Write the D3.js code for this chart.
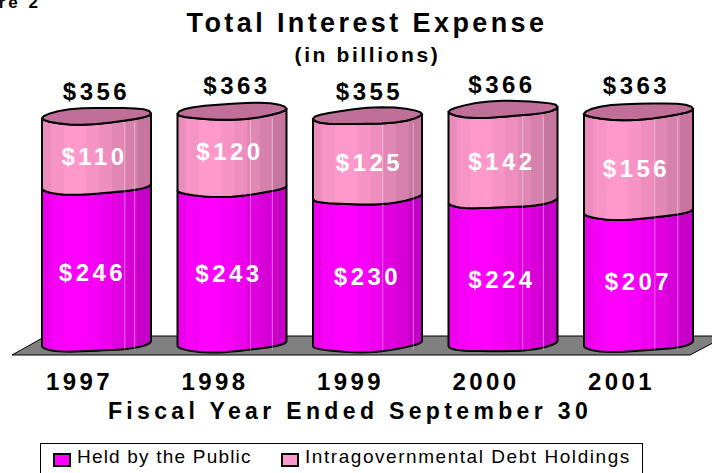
<!DOCTYPE html>
<html>
<head>
<meta charset="utf-8">
<script src="https://cdn.jsdelivr.net/npm/d3@7"></script>
<style>
  html, body { margin: 0; padding: 0; background: #fff; overflow: hidden; }
  text { font-family: "Liberation Sans", Arial, sans-serif; }
</style>
</head>
<body>
<div id="chart"></div>
<script>
const years = ["1997", "1998", "1999", "2000", "2001"];
const heldByPublic = [246, 243, 230, 224, 207];
const intragov = [110, 120, 125, 142, 156];
const totals = [356, 363, 355, 366, 363];
const seriesNames = ["Held by the Public", "Intragovernmental Debt Holdings"];

// hand placed label nudges, the original labels don't sit on a grid
const totalNudge = [[0, 1], [5, -1], [2, 0], [-1, 0], [-2, -1]];
const upperNudge = [[-2, 0], [-2, -4], [2, 0], [-1, 1], [-2, 1]];
const lowerNudge = [[-4, 1], [-3, 1], [0, 0], [-1, 1], [0, -3]];
// faint seams across each cylinder, fraction of its width
const seams = [[0.76, 0.85], [0.67, 0.87], [0.64, 0.92], [0.68, 0.87], [0.65, 0.86]];

const width = 712, height = 473;
const barWidth = 109;

const svg = d3.select("#chart").append("svg")
    .attr("width", width)
    .attr("height", height)
    .style("display", "block");

const x = d3.scaleBand().domain(years).range([28.75, 706.25]);
const y = d3.scaleLinear().domain([0, 400]).range([346, 90]);
const mid = d => x(d) + x.bandwidth() / 2;

// stepped colour bands across the cylinder
const bands = [
  [0, 0.92], [0.08, 0.97], [0.2, 1], [0.4, 0.97], [0.52, 0.93],
  [0.64, 0.88], [0.76, 0.84], [0.88, 0.78]
];
const defs = svg.append("defs");
function makeGrad(id, base) {
  const g = defs.append("linearGradient").attr("id", id);
  const c = d3.rgb(base);
  bands.forEach((b, i) => {
    const next = i < bands.length - 1 ? bands[i + 1][0] : 1;
    const col = d3.rgb(c.r * b[1], c.g * b[1], c.b * b[1]).formatHex();
    g.append("stop").attr("offset", b[0]).attr("stop-color", col);
    g.append("stop").attr("offset", next).attr("stop-color", col);
  });
}
makeGrad("gradPublic", "#ff00ff");
makeGrad("gradIntra", "#ff99cc");

// ellipse edge, tilted up to the right and a bit uneven like the original
const a = barWidth / 2, b = 8, tilt = 2.5;
function edge(cx, yv, t0, t1, phase) {
  return d3.range(0, 25).map(i => {
    const t = t0 + (t1 - t0) * i / 24;
    const wob = 0.8 * Math.sin(3 * t + phase) * Math.sin(t);
    return [cx + a * Math.cos(t), yv - tilt + (b * Math.sin(t)) + wob - tilt * Math.cos(t)];
  });
}
const line = d3.line();

function segment(cx, v0, v1, phase) {
  const bottom = edge(cx, y(v0), Math.PI, 0, phase);
  const top = edge(cx, y(v1), 0, Math.PI, phase + 1);
  return line(bottom.concat(top)) + "Z";
}

// floor
svg.append("path")
    .attr("d", line([[12, 355], [46, 336], [726, 336], [690, 355]]) + "Z")
    .attr("fill", "#808080")
    .attr("stroke", "#000")
    .attr("stroke-width", 1);

const cyl = svg.selectAll(".cyl").data(years).enter().append("g").attr("class", "cyl");

cyl.append("path")
    .attr("d", (d, i) => segment(mid(d), 0, heldByPublic[i], i * 1.7))
    .attr("fill", "url(#gradPublic)")
    .attr("stroke", "#000")
    .attr("stroke-width", 2);

cyl.append("path")
    .attr("d", (d, i) => segment(mid(d), heldByPublic[i], totals[i], i * 1.7 + 1))
    .attr("fill", "url(#gradIntra)")
    .attr("stroke", "#000")
    .attr("stroke-width", 2);

cyl.each(function(d, i) {
  seams[i].forEach(f => {
    const sx = mid(d) - a + f * barWidth;
    d3.select(this).append("line")
        .attr("x1", sx).attr("x2", sx)
        .attr("y1", y(totals[i]) + 4).attr("y2", y(0) + 4)
        .attr("stroke", "#fff")
        .attr("stroke-opacity", 0.4)
        .attr("stroke-width", 1);
  });
});

cyl.append("path")
    .attr("d", (d, i) => line(edge(mid(d), y(totals[i]), 0, 2 * Math.PI, i * 1.7 + 2)) + "Z")
    .attr("fill", "#c07098")
    .attr("stroke", "#000")
    .attr("stroke-width", 2);

function valueLabels(vals, yOf, nudge, fill) {
  svg.selectAll(null).data(years).enter().append("text")
      .attr("x", (d, i) => mid(d) + nudge[i][0])
      .attr("y", (d, i) => yOf(i) + nudge[i][1])
      .attr("text-anchor", "middle")
      .attr("font-size", 24)
      .attr("font-weight", "bold")
      .attr("letter-spacing", 3.5)
      .attr("fill", fill)
      .text((d, i) => "$" + vals[i]);
}
valueLabels(totals, i => y(totals[i]) - 19, totalNudge, "#000");
valueLabels(heldByPublic, i => y(heldByPublic[i] / 2) + 13, lowerNudge, "#fff");
valueLabels(intragov, i => y(heldByPublic[i] + intragov[i] / 2) + 12, upperNudge, "#fff");

// year axis, shifted left of the cylinders as in the 3D original
const axis = svg.append("g")
    .attr("transform", "translate(-17, 375)")
    .call(d3.axisBottom(x).tickSize(0).tickPadding(0));
axis.select(".domain").remove();
axis.selectAll("text")
    .attr("fill", "#000")
    .attr("dy", 0)
    .attr("y", 15)
    .attr("font-size", 24)
    .attr("font-weight", "bold")
    .attr("letter-spacing", 3.4)
    .style("font-family", '"Liberation Sans", Arial, sans-serif');

// titles
function title(txt, px, py, size, spacing) {
  svg.append("text").attr("x", px).attr("y", py)
      .attr("text-anchor", "middle")
      .attr("font-size", size)
      .attr("font-weight", "bold")
      .attr("letter-spacing", spacing)
      .text(txt);
}
title("Total Interest Expense", 367, 32, 27, 3.4);
title("(in billions)", 367.5, 62, 21, 2.6);
title("Fiscal Year Ended September 30", 350, 419, 23, 4.35);

svg.append("text").attr("x", 41).attr("y", 8)
    .attr("text-anchor", "end")
    .attr("font-size", 17)
    .attr("font-weight", "bold")
    .attr("letter-spacing", 3)
    .text("Figure 2");

// legend, the frame runs off the bottom of the picture
svg.append("rect")
    .attr("x", 40.5).attr("y", 443.5)
    .attr("width", 602).attr("height", 34)
    .attr("fill", "#fff").attr("stroke", "#000");

const legendX = [54, 282];
const legendColors = ["#ff00ff", "#ff99cc"];
const legendSpacing = [1.2, 1.55];
seriesNames.forEach((name, i) => {
  svg.append("rect")
      .attr("x", legendX[i]).attr("y", 454)
      .attr("width", 16).attr("height", 12)
      .attr("fill", legendColors[i])
      .attr("stroke", "#000").attr("stroke-width", 2);
  svg.append("text")
      .attr("x", legendX[i] + 23).attr("y", 463)
      .attr("font-size", 19)
      .attr("letter-spacing", legendSpacing[i])
      .text(name);
});
</script>
</body>
</html>
